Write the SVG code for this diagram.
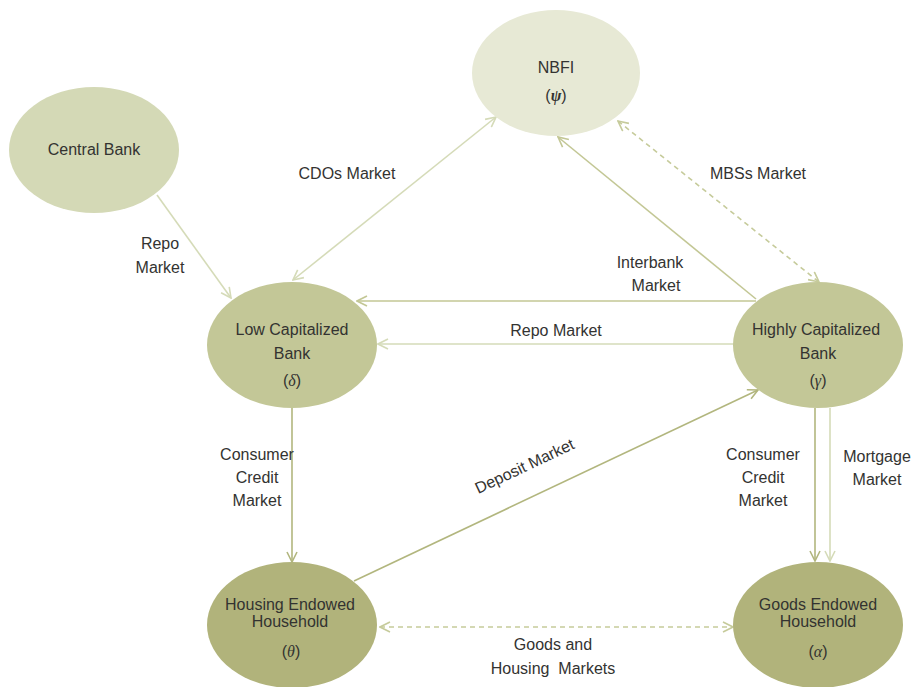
<svg xmlns="http://www.w3.org/2000/svg" width="915" height="687" viewBox="0 0 915 687">
<style>
text{font-family:"Liberation Sans",Arial,sans-serif;font-size:16px;fill:#333331;text-anchor:middle}
.g{font-family:"Liberation Serif","Times New Roman",serif;font-style:italic}
.b{font-weight:bold}
.c{fill:none;stroke-width:1.6}
.light{stroke:#d5dbb8}
.med{stroke:#c3c795}
.dark{stroke:#b2b67e}
.dash{stroke:#c6cb9b;stroke-dasharray:5,4}
</style>
<defs>
<marker id="aL" viewBox="0 0 12 12" refX="11" refY="6" markerWidth="12" markerHeight="12" markerUnits="userSpaceOnUse" orient="auto-start-reverse"><path d="M1,1 L11,6 L1,11" fill="none" stroke="#d5dbb8" stroke-width="1.6"/></marker>
<marker id="aM" viewBox="0 0 12 12" refX="11" refY="6" markerWidth="12" markerHeight="12" markerUnits="userSpaceOnUse" orient="auto-start-reverse"><path d="M1,1 L11,6 L1,11" fill="none" stroke="#c3c795" stroke-width="1.6"/></marker>
<marker id="aD" viewBox="0 0 12 12" refX="11" refY="6" markerWidth="12" markerHeight="12" markerUnits="userSpaceOnUse" orient="auto-start-reverse"><path d="M1,1 L11,6 L1,11" fill="none" stroke="#b2b67e" stroke-width="1.6"/></marker>
<marker id="aS" viewBox="0 0 12 12" refX="11" refY="6" markerWidth="12" markerHeight="12" markerUnits="userSpaceOnUse" orient="auto-start-reverse"><path d="M1,1 L11,6 L1,11" fill="none" stroke="#c6cb9b" stroke-width="1.6"/></marker>
</defs>
<rect width="915" height="687" fill="#ffffff"/>

<g id="connectors">
<line class="c light" x1="157" y1="195" x2="231" y2="298" marker-end="url(#aL)"/>
<line class="c light" x1="293" y1="280" x2="496" y2="117" marker-start="url(#aL)" marker-end="url(#aL)"/>
<line class="c med" x1="756" y1="299" x2="558" y2="137" marker-end="url(#aM)"/>
<line class="c dash" x1="618" y1="121" x2="819" y2="282" marker-start="url(#aS)" marker-end="url(#aS)"/>
<line class="c med" stroke-width="2" x1="756" y1="301" x2="357" y2="301" marker-end="url(#aM)"/>
<line class="c light" x1="734" y1="344" x2="378" y2="344" marker-end="url(#aL)"/>
<line class="c dark" x1="292" y1="408" x2="292" y2="562" marker-end="url(#aD)"/>
<line class="c dark" x1="354" y1="581" x2="758" y2="390" marker-end="url(#aD)"/>
<line class="c dark" x1="815" y1="408" x2="815" y2="561" marker-end="url(#aD)"/>
<line class="c light" x1="830" y1="408" x2="830" y2="561" marker-end="url(#aL)"/>
<line class="c dash" x1="380" y1="627" x2="733" y2="627" marker-start="url(#aS)" marker-end="url(#aS)"/>
<text x="347" y="179">CDOs Market</text>
<text x="160" y="249">Repo</text>
<text x="160" y="273">Market</text>
<text x="758" y="179">MBSs Market</text>
<text x="650" y="268">Interbank</text>
<text x="656" y="291">Market</text>
<text x="556" y="336">Repo Market</text>
<text x="257" y="460">Consumer</text>
<text x="257" y="483">Credit</text>
<text x="257" y="506">Market</text>
<text x="527" y="471" transform="rotate(-25.3 527 471)">Deposit Market</text>
<text x="763" y="460">Consumer</text>
<text x="763" y="483">Credit</text>
<text x="763" y="506">Market</text>
<text x="877" y="462">Mortgage</text>
<text x="877" y="485">Market</text>
<text x="553" y="650">Goods and</text>
<text x="553" y="674" xml:space="preserve">Housing  Markets</text>
</g>

<g id="nbfi">
<ellipse cx="556" cy="73" rx="84" ry="63" fill="#e7e9d5"/>
<text x="556" y="73">NBFI</text>
<text x="556" y="101">(<tspan class="g b">ψ</tspan>)</text>
</g>
<g id="central-bank">
<ellipse cx="94" cy="150" rx="85" ry="63" fill="#d4d9b6"/>
<text x="94" y="155">Central Bank</text>
</g>
<g id="low-bank">
<ellipse cx="292" cy="345" rx="85" ry="63" fill="#c3c797"/>
<text x="292" y="335">Low Capitalized</text>
<text x="292" y="359">Bank</text>
<text x="292" y="386">(<tspan class="g">δ</tspan>)</text>
</g>
<g id="high-bank">
<ellipse cx="818" cy="345" rx="85" ry="63" fill="#c3c797"/>
<text x="816" y="335">Highly Capitalized</text>
<text x="818" y="359">Bank</text>
<text x="818" y="386">(<tspan class="g">γ</tspan>)</text>
</g>
<g id="housing-household">
<ellipse cx="292" cy="625" rx="85" ry="63" fill="#b1b37b"/>
<text x="290" y="610">Housing Endowed</text>
<text x="290" y="627">Household</text>
<text x="291" y="657">(<tspan class="g">θ</tspan>)</text>
</g>
<g id="goods-household">
<ellipse cx="818" cy="625" rx="85" ry="63" fill="#b1b37b"/>
<text x="818" y="610">Goods Endowed</text>
<text x="818" y="627">Household</text>
<text x="818" y="657">(<tspan class="g">α</tspan>)</text>
</g>
</svg>
